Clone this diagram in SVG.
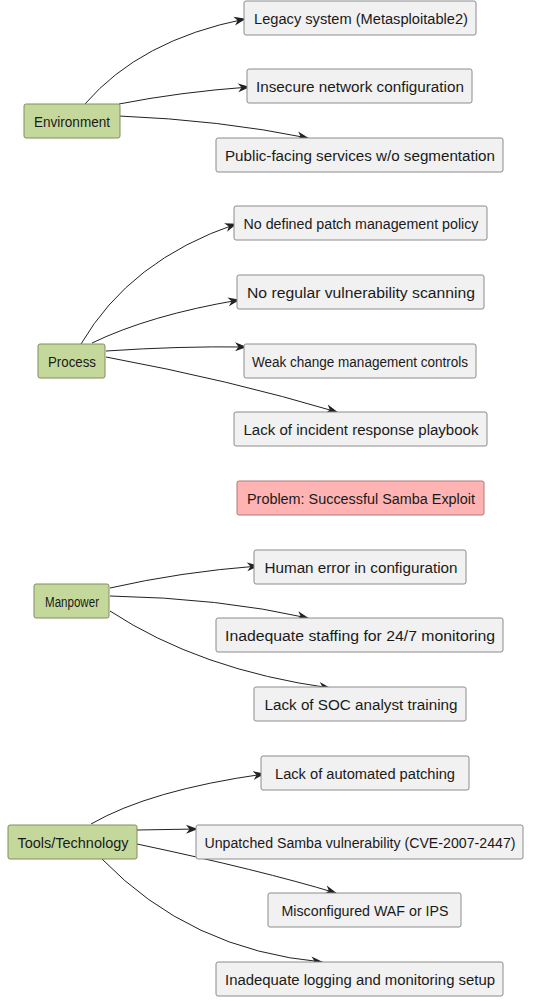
<svg xmlns="http://www.w3.org/2000/svg" width="545" height="1001" viewBox="0 0 545 1001">
<style>
.n rect{fill:#f1f1f1;stroke:#8c8c8c;stroke-width:1}
.g rect{fill:#c5d89b;stroke:#7f8f5f;stroke-width:1}
.p rect{fill:#ffb3b3;stroke:#b07878;stroke-width:1}
text{font-family:"Liberation Sans",Arial,sans-serif;font-size:14px;fill:#1a1a1a;text-anchor:middle;dominant-baseline:central}
#edges path{fill:none;stroke:#222;stroke-width:1;marker-end:url(#arr)}
</style>
<defs>
<marker id="arr" viewBox="0 0 12 10" refX="11" refY="5" markerWidth="12" markerHeight="10" markerUnits="userSpaceOnUse" orient="auto">
<path d="M0,0.5 L12,5 L0,9.5 L3.5,5 z" fill="#222"/>
</marker>
</defs>
<rect width="545" height="1001" fill="#fff"/>
<g id="edges">
<path d="M85,104 Q140,40 245,19"/>
<path d="M119,104 Q180,92 249,87"/>
<path d="M119,116 Q220,120 308,138"/>
<path d="M81,344 Q130,260 236,224"/>
<path d="M92,343 Q150,315 239,300"/>
<path d="M106,351 Q180,346 246,347"/>
<path d="M106,357 Q230,380 337,412"/>
<path d="M110,588 Q180,572 258,566"/>
<path d="M110,596 Q220,598 308,618"/>
<path d="M110,611 Q200,670 330,688"/>
<path d="M91,824 Q150,790 264,774"/>
<path d="M137,830 L197,829"/>
<path d="M137,844 Q260,870 336,893"/>
<path d="M102,859 Q190,950 322,962"/>
</g>
<g id="environment" class="g"><rect x="24" y="104" width="96" height="34" rx="2"/><text x="72" y="122" textLength="76" lengthAdjust="spacingAndGlyphs">Environment</text></g>
<g id="legacy" class="n"><rect x="244" y="1" width="232" height="34" rx="2"/><text x="361" y="19" textLength="214" lengthAdjust="spacingAndGlyphs">Legacy system (Metasploitable2)</text></g>
<g id="insecure" class="n"><rect x="247" y="69" width="225" height="34" rx="2"/><text x="360" y="87" textLength="208" lengthAdjust="spacingAndGlyphs">Insecure network configuration</text></g>
<g id="public" class="n"><rect x="216" y="138" width="287" height="34" rx="2"/><text x="360" y="156" textLength="270" lengthAdjust="spacingAndGlyphs">Public-facing services w/o segmentation</text></g>
<g id="process" class="g"><rect x="38" y="344" width="67" height="34" rx="2"/><text x="72" y="362" textLength="48" lengthAdjust="spacingAndGlyphs">Process</text></g>
<g id="patchpolicy" class="n"><rect x="234" y="206" width="253" height="34" rx="2"/><text x="361" y="224" textLength="235" lengthAdjust="spacingAndGlyphs">No defined patch management policy</text></g>
<g id="vulnscan" class="n"><rect x="237" y="275" width="247" height="34" rx="2"/><text x="361" y="293" textLength="228" lengthAdjust="spacingAndGlyphs">No regular vulnerability scanning</text></g>
<g id="change" class="n"><rect x="244" y="344" width="232" height="34" rx="2"/><text x="360" y="362" textLength="216" lengthAdjust="spacingAndGlyphs">Weak change management controls</text></g>
<g id="playbook" class="n"><rect x="234" y="412" width="253" height="34" rx="2"/><text x="361" y="430" textLength="235" lengthAdjust="spacingAndGlyphs">Lack of incident response playbook</text></g>
<g id="problem" class="p"><rect x="237" y="481" width="247" height="34" rx="2"/><text x="361" y="499" textLength="228" lengthAdjust="spacingAndGlyphs">Problem: Successful Samba Exploit</text></g>
<g id="manpower" class="g"><rect x="34" y="584" width="75" height="34" rx="2"/><text x="72" y="602" textLength="54" lengthAdjust="spacingAndGlyphs">Manpower</text></g>
<g id="human" class="n"><rect x="254" y="550" width="212" height="34" rx="2"/><text x="361" y="568" textLength="193" lengthAdjust="spacingAndGlyphs">Human error in configuration</text></g>
<g id="staffing" class="n"><rect x="216" y="618" width="287" height="34" rx="2"/><text x="360" y="636" textLength="270" lengthAdjust="spacingAndGlyphs">Inadequate staffing for 24/7 monitoring</text></g>
<g id="soc" class="n"><rect x="254" y="687" width="212" height="34" rx="2"/><text x="361" y="705" textLength="193" lengthAdjust="spacingAndGlyphs">Lack of SOC analyst training</text></g>
<g id="tools" class="g"><rect x="8" y="825" width="129" height="34" rx="2"/><text x="73" y="843" textLength="111" lengthAdjust="spacingAndGlyphs">Tools/Technology</text></g>
<g id="autopatch" class="n"><rect x="261" y="756" width="208" height="34" rx="2"/><text x="365" y="774" textLength="180" lengthAdjust="spacingAndGlyphs">Lack of automated patching</text></g>
<g id="samba" class="n"><rect x="196" y="825" width="327" height="34" rx="2"/><text x="360" y="843" textLength="311" lengthAdjust="spacingAndGlyphs">Unpatched Samba vulnerability (CVE-2007-2447)</text></g>
<g id="waf" class="n"><rect x="268" y="893" width="193" height="34" rx="2"/><text x="365" y="911" textLength="167" lengthAdjust="spacingAndGlyphs">Misconfigured WAF or IPS</text></g>
<g id="logging" class="n"><rect x="216" y="962" width="287" height="34" rx="2"/><text x="360" y="980" textLength="270" lengthAdjust="spacingAndGlyphs">Inadequate logging and monitoring setup</text></g>
</svg>
